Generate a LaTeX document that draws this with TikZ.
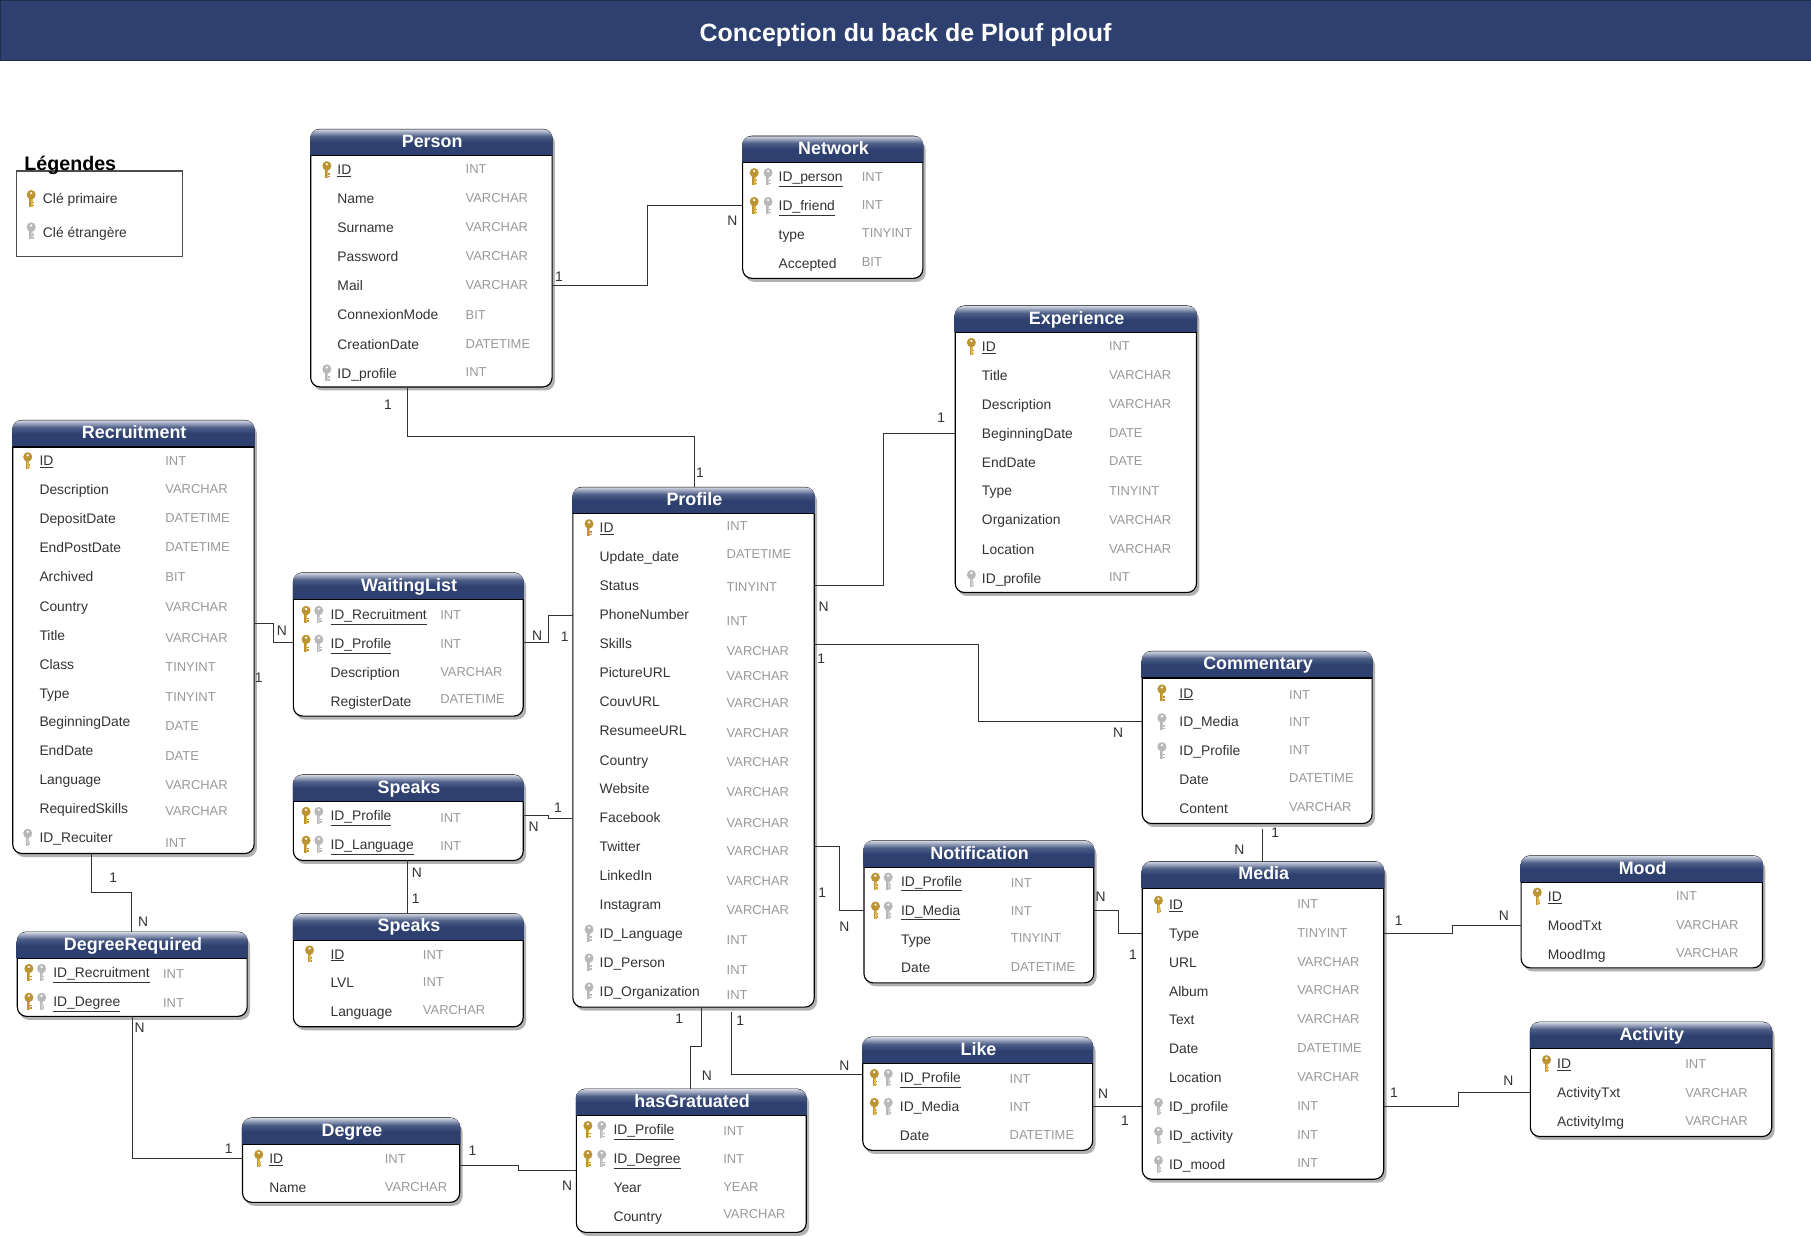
\documentclass[tikz,border=0pt]{standalone}
\usepackage{fontspec}
\setmainfont{Liberation Sans}
\definecolor{hdr}{HTML}{2D4070}
\definecolor{hdrl}{HTML}{D0D5E2}
\definecolor{keyg}{HTML}{BC9434}
\definecolor{keyl}{HTML}{E4B848}
\definecolor{keyn}{HTML}{B8B8B8}
\definecolor{keym}{HTML}{CCCCCC}
\definecolor{txt}{HTML}{333333}
\definecolor{typ}{HTML}{999999}
\pgfdeclareverticalshading{hdrshade}{100bp}{color(0bp)=(hdr); color(50bp)=(hdr); color(62bp)=(hdr!80!hdrl); color(75bp)=(hdrl); color(100bp)=(hdrl)}
\tikzset{
  link/.style={draw=black!80,line width=0.85pt},
  tblbody/.style={draw=black,fill=white,line width=1pt,rounded corners=8pt,inner sep=0pt,outer sep=0pt,anchor=north west},
  tbltitle/.style={text=white,font=\bfseries\fontsize{15.5}{16}\selectfont,inner sep=0pt,text height=12pt,text depth=3pt},
  rowtxt/.style={text=txt,font=\fontsize{12}{12}\selectfont,anchor=west,inner sep=0pt,text height=8.8pt,text depth=2.6pt,yshift=-1.3pt},
  rowtyp/.style={text=typ,font=\fontsize{11.2}{12}\selectfont,anchor=west,inner sep=0pt,text height=8.8pt,text depth=2.6pt,yshift=-1.3pt},
  card/.style={text=txt,font=\fontsize{12}{12}\selectfont,inner sep=0pt},
}
\newcounter{nn}
\newcommand\lbl[3]{\stepcounter{nn}\node[card] (c\thenn) at (#1,#2) {#3};}
\newcommand\keyico[4]{%
  \fill[#3] (#1-1.5,#2-1) rectangle (#1+1.2,#2+7.3);
  \fill[#4] (#1-0.3,#2-1) rectangle (#1+1.2,#2+7.3);
  \fill[#3] (#1+1.2,#2+2.8) rectangle (#1+2.4,#2+4.1);
  \fill[#3] (#1+1.2,#2+5.2) rectangle (#1+2.4,#2+6.5);
  \fill[#3] (#1,#2-3.4) ellipse (3.9 and 4.1);
  \fill[white] (#1,#2-4.8) circle (1.1);
}
\newcommand\goldkey[2]{\keyico{#1}{#2}{keyg}{keyl}}
\newcommand\graykey[2]{\keyico{#1}{#2}{keyn}{keym}}
\newcommand\tbl[6]{% name x0 y0 x1 y1 title (header 23 high)
  \fill[black!30] (#2+2,#3+4) [rounded corners=8pt] rectangle (#4+2.5,#5+3);
  \node[tblbody,minimum width=#4pt-#2pt,minimum height=#5pt-#3pt] (#1) at (#2,#3) {};
  \path[shading=hdrshade] (#2-0.5,#3+23) [rounded corners=8pt] -- (#2-0.5,#3) -- (#4+0.5,#3) [sharp corners] -- (#4+0.5,#3+23) -- cycle;
  \draw[black,line width=0.9pt] (#2,#3+23) -- (#4,#3+23);
  \node[tbltitle] (#1title) at ({(#2+#4)/2+0.7},#3+11.3) {#6};
}
\newcommand\rows[5]{% textx typex goldx grayx list
  \def\kA{#3}\def\kB{#4}%
  \foreach \ry/\rt/\py/\pt/\kd in {#5}{%
    \stepcounter{nn}%
    \csname kd\kd\endcsname
    \node[rowtxt] (r\thenn) at (#1,\ry) {\csname tx\kd\endcsname{\rt}};
    \stepcounter{nn}%
    \node[rowtyp] (y\thenn) at (#2,\py) {\pt};
  }%
}
\newcommand\kdn{}
\newcommand\kdp{\goldkey{\kA}{\ry}}
\newcommand\kdf{\graykey{\kA}{\ry}}
\newcommand\kdb{\goldkey{\kA}{\ry}\graykey{\kB}{\ry}}
\newcommand\kdc{\goldkey{\kA}{\ry}\graykey{\kB}{\ry}}
\newcommand\txn[1]{#1}
\newcommand\txp[1]{\underline{#1}}
\newcommand\txf[1]{#1}
\newcommand\txb[1]{\underline{#1}}
\newcommand\txc[1]{#1}
\begin{document}
\begin{tikzpicture}[x=1pt,y=-1pt]
\useasboundingbox (0,0) rectangle (1568,1071);
\fill[white] (0,0) rectangle (1568,1071);
% title bar
\node[fill=hdr,draw=hdr!70!black,line width=0.8pt,minimum width=1568pt,minimum height=52pt,inner sep=0pt,outer sep=0pt,anchor=north west] (bar) at (0,0) {};
\node[text=white,font=\bfseries\fontsize{21.6}{22}\selectfont,inner sep=0pt] (maintitle) at (784,30) {Conception du back de Plouf plouf};
% legend
\node[draw=black!70,line width=1pt,minimum width=144pt,minimum height=74pt,inner sep=0pt,outer sep=0pt,anchor=north west] (legend) at (14,148) {};
\node[font=\bfseries\fontsize{17}{17}\selectfont,anchor=west,inner sep=0pt,text height=12pt,text depth=4pt] (legendtitle) at (21,144) {Légendes};
\goldkey{27}{172}\graykey{27}{200}
\node[rowtxt] (legp) at (37,172) {Clé primaire};
\node[rowtxt] (lege) at (37,201) {Clé étrangère};
% tables
\tbl{Person}{269}{112}{478}{335}{Person}
\rows{292}{403}{283}{283}{147/ID/146/INT/p,172/Name/171/VARCHAR/n,197/Surname/196/VARCHAR/n,222/Password/221/VARCHAR/n,247/Mail/246/VARCHAR/n,272/ConnexionMode/272/BIT/n,298/CreationDate/297/DATETIME/n,323/ID\_profile/322/INT/f}
\tbl{Network}{643}{118}{799}{241}{Network}
\rows{674}{746}{653}{665}{153/ID\_person/153/INT/b,178/ID\_friend/177/INT/b,203/type/201/TINYINT/n,228/Accepted/226/BIT/n}
\tbl{Experience}{827}{265}{1036}{513}{Experience}
\rows{850}{960}{841}{841}{300/ID/299/INT/p,325/Title/324/VARCHAR/n,350/Description/349/VARCHAR/n,375/BeginningDate/374/DATE/n,400/EndDate/399/DATE/n,425/Type/425/TINYINT/n,450/Organization/450/VARCHAR/n,476/Location/475/VARCHAR/n,501/ID\_profile/499/INT/f}
\tbl{Recruitment}{11}{364}{220}{739}{Recruitment}
\rows{34}{143}{24}{25}{399/ID/399/INT/p,424/Description/423/VARCHAR/n,449/DepositDate/448/DATETIME/n,474/EndPostDate/473/DATETIME/n,499/Archived/499/BIT/n,525/Country/525/VARCHAR/n,550/Title/552/VARCHAR/n,575/Class/577/TINYINT/n,600/Type/603/TINYINT/n,625/BeginningDate/628/DATE/n,650/EndDate/654/DATE/n,675/Language/679/VARCHAR/n,700/RequiredSkills/702/VARCHAR/n,725/ID\_Recuiter/729/INT/f}
\tbl{WaitingList}{254}{496}{453}{620}{WaitingList}
\rows{286}{381}{265}{276}{532/ID\_Recruitment/532/INT/b,557/ID\_Profile/557/INT/b,582/Description/581/VARCHAR/n,607/RegisterDate/605/DATETIME/n}
\tbl{Speaks}{254}{671}{453}{745}{Speaks}
\rows{286}{381}{265}{276}{706/ID\_Profile/708/INT/b,731/ID\_Language/732/INT/b}
\tbl{SpeaksB}{254}{791}{453}{889}{Speaks}
\rows{286}{366}{268}{268}{826/ID/826/INT/p,851/LVL/850/INT/n,876/Language/874/VARCHAR/n}
\tbl{DegreeRequired}{15}{807}{214}{880}{DegreeRequired}
\rows{46}{141}{25}{36}{842/ID\_Recruitment/843/INT/b,867/ID\_Degree/868/INT/b}
\tbl{Degree}{210}{968}{398}{1041}{Degree}
\rows{233}{333}{224}{224}{1003/ID/1003/INT/p,1028/Name/1027/VARCHAR/n}
\tbl{hasGratuated}{499}{943}{698}{1067}{hasGratuated}
\rows{531}{626}{509}{521}{978/ID\_Profile/979/INT/b,1003/ID\_Degree/1003/INT/b,1028/Year/1027/YEAR/n,1053/Country/1051/VARCHAR/n}
\tbl{Profile}{496}{422}{705}{872}{Profile}
\rows{519}{629}{510}{510}{457/ID/455/INT/p,482/Update\_date/479/DATETIME/n,507/Status/508/TINYINT/n,532/PhoneNumber/537/INT/n,557/Skills/563/VARCHAR/n,582/PictureURL/585/VARCHAR/n,607/CouvURL/608/VARCHAR/n,632/ResumeeURL/634/VARCHAR/n,658/Country/659/VARCHAR/n,683/Website/685/VARCHAR/n,708/Facebook/712/VARCHAR/n,733/Twitter/736/VARCHAR/n,758/LinkedIn/762/VARCHAR/n,783/Instagram/787/VARCHAR/n,808/ID\_Language/813/INT/f,833/ID\_Person/839/INT/f,858/ID\_Organization/861/INT/f}
\tbl{Notification}{748}{728}{947}{851}{Notification}
\rows{780}{875}{758}{769}{763/ID\_Profile/764/INT/b,788/ID\_Media/788/INT/b,813/Type/812/TINYINT/n,838/Date/837/DATETIME/n}
\tbl{Like}{747}{898}{946}{996}{Like}
\rows{779}{874}{757}{769}{933/ID\_Profile/934/INT/b,958/ID\_Media/958/INT/c,983/Date/982/DATETIME/n}
\tbl{Media}{989}{746}{1198}{1021}{Media}
\rows{1012}{1123}{1003}{1003}{783/ID/782/INT/p,808/Type/807/TINYINT/n,833/URL/832/VARCHAR/n,858/Album/857/VARCHAR/n,883/Text/882/VARCHAR/n,908/Date/907/DATETIME/n,933/Location/932/VARCHAR/n,958/ID\_profile/957/INT/f,983/ID\_activity/982/INT/f,1008/ID\_mood/1006/INT/f}
\tbl{Commentary}{989}{564}{1188}{713}{Commentary}
\rows{1021}{1116}{1006}{1006}{600/ID/601/INT/p,625/ID\_Media/625/INT/f,650/ID\_Profile/649/INT/f,675/Date/673/DATETIME/n,700/Content/698/VARCHAR/n}
\tbl{Mood}{1317}{741}{1526}{838}{Mood}
\rows{1340}{1451}{1331}{1331}{776/ID/775/INT/p,801/MoodTxt/800/VARCHAR/n,826/MoodImg/825/VARCHAR/n}
\tbl{Activity}{1325}{885}{1534}{984}{Activity}
\rows{1348}{1459}{1339}{1339}{921/ID/921/INT/p,946/ActivityTxt/946/VARCHAR/n,971/ActivityImg/970/VARCHAR/n}
% connectors
\draw[link] (Person.east |- 0,247) -- (561,247) -- (561,178) -- (Network.west |- 0,178);
\draw[link] (Person.south -| 353,0) -- (353,378) -- (601,378) -- (Profile.north -| 601,0);
\draw[link] (Profile.east |- 0,507) -- (765,507) -- (765,375) -- (Experience.west |- 0,375);
\draw[link] (Profile.east |- 0,558) -- (847,558) -- (847,625) -- (Commentary.west |- 0,625);
\draw[link] (Recruitment.east |- 0,540) -- (237,540) -- (237,556) -- (WaitingList.west |- 0,556);
\draw[link] (WaitingList.east |- 0,556) -- (475,556) -- (475,533) -- (Profile.west |- 0,533);
\draw[link] (Speaks.east |- 0,706) -- (475,706) -- (475,709) -- (Profile.west |- 0,709);
\draw[link] (Speaks.south -| 353,0) -- (SpeaksB.north -| 353,0);
\draw[link] (Recruitment.south -| 79,0) -- (79,773) -- (114,773) -- (DegreeRequired.north -| 114,0);
\draw[link] (DegreeRequired.south -| 115,0) -- (115,1003) -- (Degree.west |- 0,1003);
\draw[link] (Degree.east |- 0,1009) -- (449,1009) -- (449,1013) -- (hasGratuated.west |- 0,1013);
\draw[link] (Profile.south -| 607,0) -- (607,906) -- (598,906) -- (hasGratuated.north -| 598,0);
\coordinate (likestart) at (633,876);
\draw[link] (likestart) -- (633,930) -- (Like.west |- 0,930);
\draw[link] (Profile.east |- 0,733) -- (727,733) -- (727,788) -- (Notification.west |- 0,788);
\draw[link] (Notification.east |- 0,788) -- (968,788) -- (968,808) -- (Media.west |- 0,808);
\draw[link] (Like.east |- 0,958) -- (Media.west |- 0,958);
\coordinate (commstart) at (1093,718);
\draw[link] (commstart) -- (Media.north -| 1093,0);
\draw[link] (Media.east |- 0,808) -- (1258,808) -- (1258,801) -- (Mood.west |- 0,801);
\draw[link] (Media.east |- 0,958) -- (1263,958) -- (1263,946) -- (Activity.west |- 0,946);
% cardinalities
\lbl{484}{240}{1}\lbl{634}{191}{N}
\lbl{336}{350}{1}\lbl{606}{409}{1}
\lbl{713}{525}{N}\lbl{815}{362}{1}
\lbl{711}{570}{1}\lbl{968}{634}{N}
\lbl{224}{587}{1}\lbl{244}{546}{N}
\lbl{465}{550}{N}\lbl{489}{551}{1}
\lbl{483}{699}{1}\lbl{462}{716}{N}
\lbl{361}{756}{N}\lbl{360}{778}{1}
\lbl{98}{760}{1}\lbl{124}{798}{N}
\lbl{121}{890}{N}\lbl{198}{995}{1}
\lbl{409}{996}{1}\lbl{491}{1027}{N}
\lbl{588}{882}{1}\lbl{612}{931}{N}
\lbl{641}{884}{1}\lbl{731}{923}{N}
\lbl{712}{773}{1}\lbl{731}{802}{N}
\lbl{953}{776}{N}\lbl{981}{827}{1}
\lbl{955}{947}{N}\lbl{974}{970}{1}
\lbl{1104}{721}{1}\lbl{1073}{736}{N}
\lbl{1211}{797}{1}\lbl{1302}{793}{N}
\lbl{1207}{946}{1}\lbl{1306}{936}{N}
\end{tikzpicture}
\end{document}
